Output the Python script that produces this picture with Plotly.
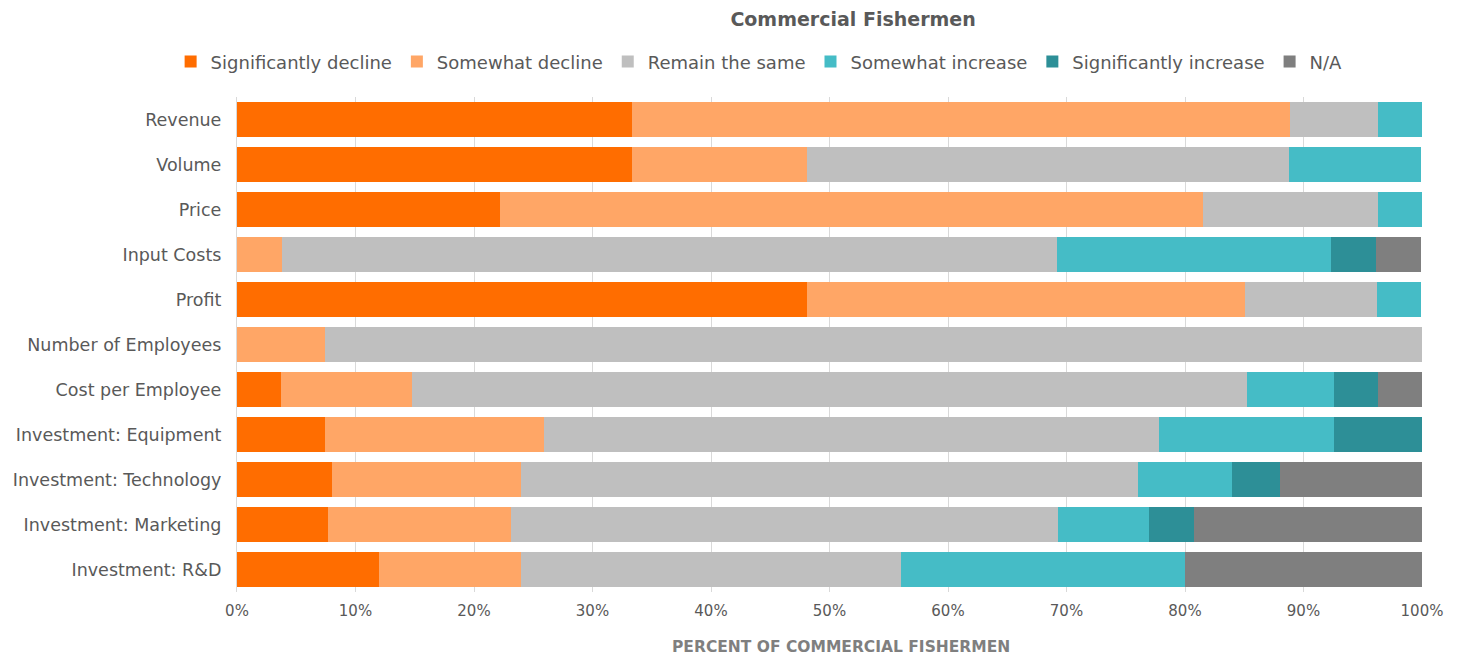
import plotly.graph_objects as go

categories = ["Revenue", "Volume", "Price", "Input Costs", "Profit", "Number of Employees",
              "Cost per Employee", "Investment: Equipment", "Investment: Technology",
              "Investment: Marketing", "Investment: R&D"]

series_names = ["Significantly decline", "Somewhat decline", "Remain the same",
                "Somewhat increase", "Significantly increase", "N/A"]

sig_decline = [33.3, 33.3, 22.2, 0.0, 48.1, 0.0, 3.7, 7.4, 8.0, 7.7, 12.0]
some_decline = [55.6, 14.8, 59.3, 3.8, 37.0, 7.4, 11.1, 18.5, 16.0, 15.4, 12.0]
same = [7.4, 40.7, 14.8, 65.4, 11.1, 92.6, 70.4, 51.9, 52.0, 46.2, 32.0]
some_increase = [3.7, 11.1, 3.7, 23.1, 3.7, 0.0, 7.4, 14.8, 8.0, 7.7, 24.0]
sig_increase = [0.0, 0.0, 0.0, 3.8, 0.0, 0.0, 3.7, 7.4, 4.0, 3.8, 0.0]
na = [0.0, 0.0, 0.0, 3.8, 0.0, 0.0, 3.7, 0.0, 12.0, 19.2, 20.0]

colors = ["#FF6D00", "#FFA666", "#BFBFBF", "#45BCC6", "#2D8F97", "#7F7F7F"]
values = [sig_decline, some_decline, same, some_increase, sig_increase, na]

font_family = "'DejaVu Sans', sans-serif"

fig = go.Figure()
for name, vals, col in zip(series_names, values, colors):
    fig.add_trace(go.Bar(
        y=categories, x=[v / 100 for v in vals], name=name, orientation="h",
        marker=dict(color=col, line=dict(width=0)),
        hovertemplate="%{y}: %{x:.1%}<extra>" + name + "</extra>",
    ))

fig.update_layout(
    barmode="stack",
    bargap=0.22,
    width=1452, height=649,
    margin=dict(l=229, r=38, t=89, b=65),
    paper_bgcolor="white", plot_bgcolor="white",
    font=dict(family=font_family, color="#595959", size=15),
    title=dict(text="<b>Commercial Fishermen</b>", x=0.582, xanchor="center",
               y=0.982, yanchor="middle", font=dict(size=19, color="#595959")),
    legend=dict(orientation="h", xref="container", yref="container",
                x=0.112, xanchor="left", y=0.917, yanchor="middle",
                font=dict(size=18, color="#595959"), traceorder="normal",
                itemwidth=30, tracegroupgap=0),
    xaxis=dict(range=[0, 1], tickformat=".0%", dtick=0.1, showgrid=True,
               gridcolor="#D9D9D9", gridwidth=1, zeroline=False,
               showline=False, ticks="", tickfont=dict(size=15, color="#595959"),
               ticklabelstandoff=8, fixedrange=True, automargin=False),
    yaxis=dict(autorange="reversed", showgrid=False, showline=True,
               linecolor="#D9D9D9", ticks="", ticksuffix="  ",
               tickfont=dict(size=17.5, color="#595959"), fixedrange=True,
               automargin=False),
    annotations=[dict(text="<b>PERCENT OF COMMERCIAL FISHERMEN</b>", xref="paper", yref="paper",
                      x=0.51, y=0, yshift=-55, xanchor="center", yanchor="middle",
                      showarrow=False, font=dict(size=15.5, color="#7F7F7F"))],
)

fig.write_html("out.html")
